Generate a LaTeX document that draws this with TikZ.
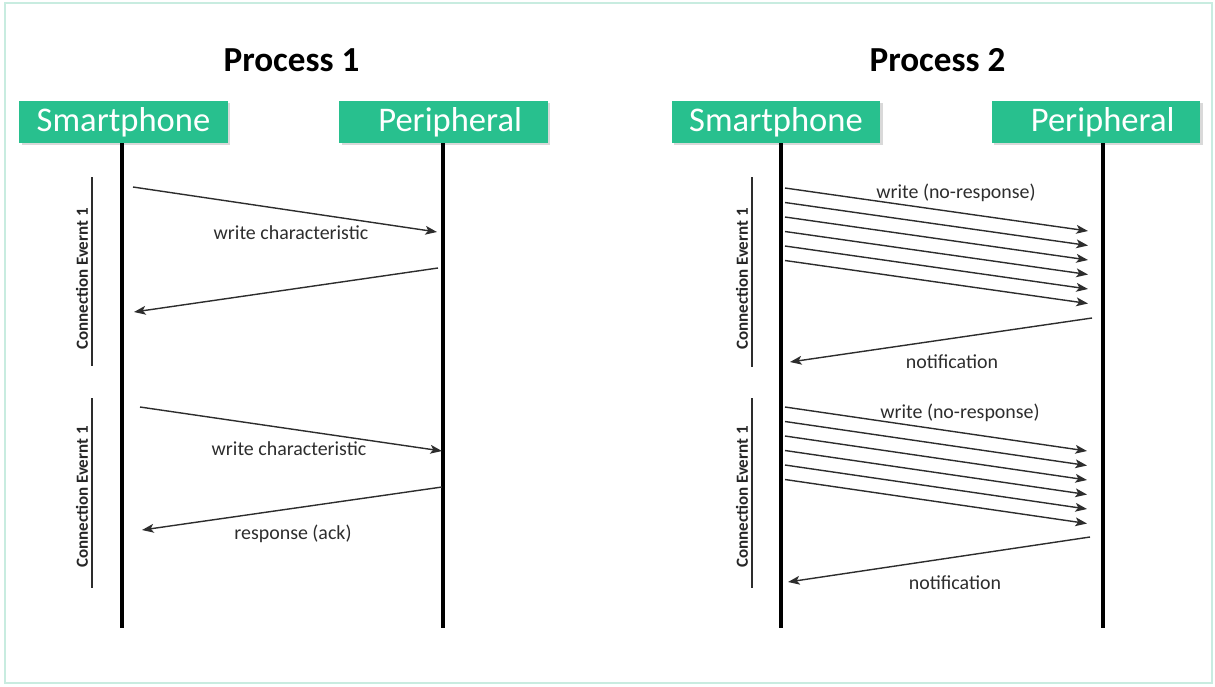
\documentclass[tikz,border=0pt]{standalone}
\usepackage{fontspec}
\setmainfont{Carlito}
\usetikzlibrary{arrows.meta,positioning,shadows}
\definecolor{bleteal}{RGB}{40,192,142}
\definecolor{framemint}{RGB}{200,236,224}
\definecolor{msggray}{RGB}{45,45,45}

\begin{document}
\begin{tikzpicture}[
    x=0.03cm, y=-0.03cm,
    every node/.style={font=\fontsize{17}{20}\selectfont, text=msggray},
    titletext/.style={font=\fontsize{30}{35}\selectfont\bfseries, text=black},
    devbox/.style={rectangle, fill=bleteal, text=white, inner sep=0pt,
                   minimum width=6.25cm, minimum height=1.26cm,
                   font=\fontsize{29.5}{34}\selectfont,
                   drop shadow={shadow xshift=2pt, shadow yshift=-2pt, opacity=0.3}},
    lifeline/.style={line width=2.6pt, draw=black},
    evtline/.style={line width=1.1pt, draw=msggray},
    evttext/.style={rotate=90, font=\fontsize{14.5}{17}\selectfont\bfseries, text=black!85},
    msg/.style={-{Stealth[length=10pt,width=7.5pt,inset=2.5pt]}, line width=1.2pt, draw=msggray},
]
\useasboundingbox (0,0) rectangle (1215,686);
\draw[framemint, line width=1.5pt] (5,3) rectangle (1212,683);

% process 1
\node[titletext] (t1) at (291.5,60) {Process 1};
\node[devbox] (sp1) at (123.5,122) {\raisebox{-2pt}{Smartphone}};
\node[devbox] (pr1) at (443.5,122) {\hspace*{0.4cm}\raisebox{-2pt}{Peripheral}};

\coordinate (sp1end) at (122,628);
\coordinate (pr1end) at (443,628);
\draw[lifeline] (sp1end |- sp1.south) -- (sp1end);
\draw[lifeline] (pr1end |- pr1.south) -- (pr1end);

\coordinate (ev1top) at (92,177);
\coordinate (ev1bot) at (92,366);
\coordinate (ev2top) at (92,398);
\coordinate (ev2bot) at (92,588);
\draw[evtline] (ev1top) -- (ev1bot);
\draw[evtline] (ev2top) -- (ev2bot);
\node[evttext] (ev1) at (82,279) {Connection Evernt 1};
\node[evttext] (ev2) at (82,497) {Connection Evernt 1};

\coordinate (m1a) at (133,187);
\coordinate (m1b) at (437,232);
\coordinate (m2a) at (438,268);
\coordinate (m2b) at (134,312);
\coordinate (m3a) at (140,407);
\coordinate (m3b) at (442,451);
\coordinate (m4a) at (442,487);
\coordinate (m4b) at (142,530);
\draw[msg] (m1a) -- (m1b);
\draw[msg] (m2a) -- (m2b);
\draw[msg] (m3a) -- (m3b);
\draw[msg] (m4a) -- (m4b);

\node (wc1) at (291,233) {write characteristic};
\node (wc2) at (289,449) {write characteristic};
\node (ack) at (293,534) {response (ack)};

% process 2
\node[titletext] (t2) at (937.5,60) {Process 2};
\node[devbox] (sp2) at (776,122) {\raisebox{-2pt}{Smartphone}};
\node[devbox] (pr2) at (1096,122) {\hspace*{0.4cm}\raisebox{-2pt}{Peripheral}};

\coordinate (sp2end) at (781,628);
\coordinate (pr2end) at (1103,628);
\draw[lifeline] (sp2end |- sp2.south) -- (sp2end);
\draw[lifeline] (pr2end |- pr2.south) -- (pr2end);

\coordinate (ev3top) at (752,177);
\coordinate (ev3bot) at (752,367);
\coordinate (ev4top) at (752,398);
\coordinate (ev4bot) at (752,588);
\draw[evtline] (ev3top) -- (ev3bot);
\draw[evtline] (ev4top) -- (ev4bot);
\node[evttext] (ev3) at (742,279) {Connection Evernt 1};
\node[evttext] (ev4) at (742,497) {Connection Evernt 1};

\foreach \i in {0,...,5} {
  \coordinate (wa\i) at (785,{188+14.5*\i});
  \coordinate (wb\i) at (1088,{231+14.5*\i});
  \draw[msg] (wa\i) -- (wb\i);
  \coordinate (wc\i) at (785,{407+14.5*\i});
  \coordinate (wd\i) at (1087,{451+14.5*\i});
  \draw[msg] (wc\i) -- (wd\i);
}
\coordinate (n1a) at (1092,318);
\coordinate (n1b) at (790,362);
\coordinate (n2a) at (1090,537);
\coordinate (n2b) at (788,582);
\draw[msg] (n1a) -- (n1b);
\draw[msg] (n2a) -- (n2b);

\node (nr1) at (956,193) {write (no-response)};
\node (nt1) at (952,362) {notification};
\node (nr2) at (960,413) {write (no-response)};
\node (nt2) at (955,583) {notification};

\end{tikzpicture}
\end{document}
